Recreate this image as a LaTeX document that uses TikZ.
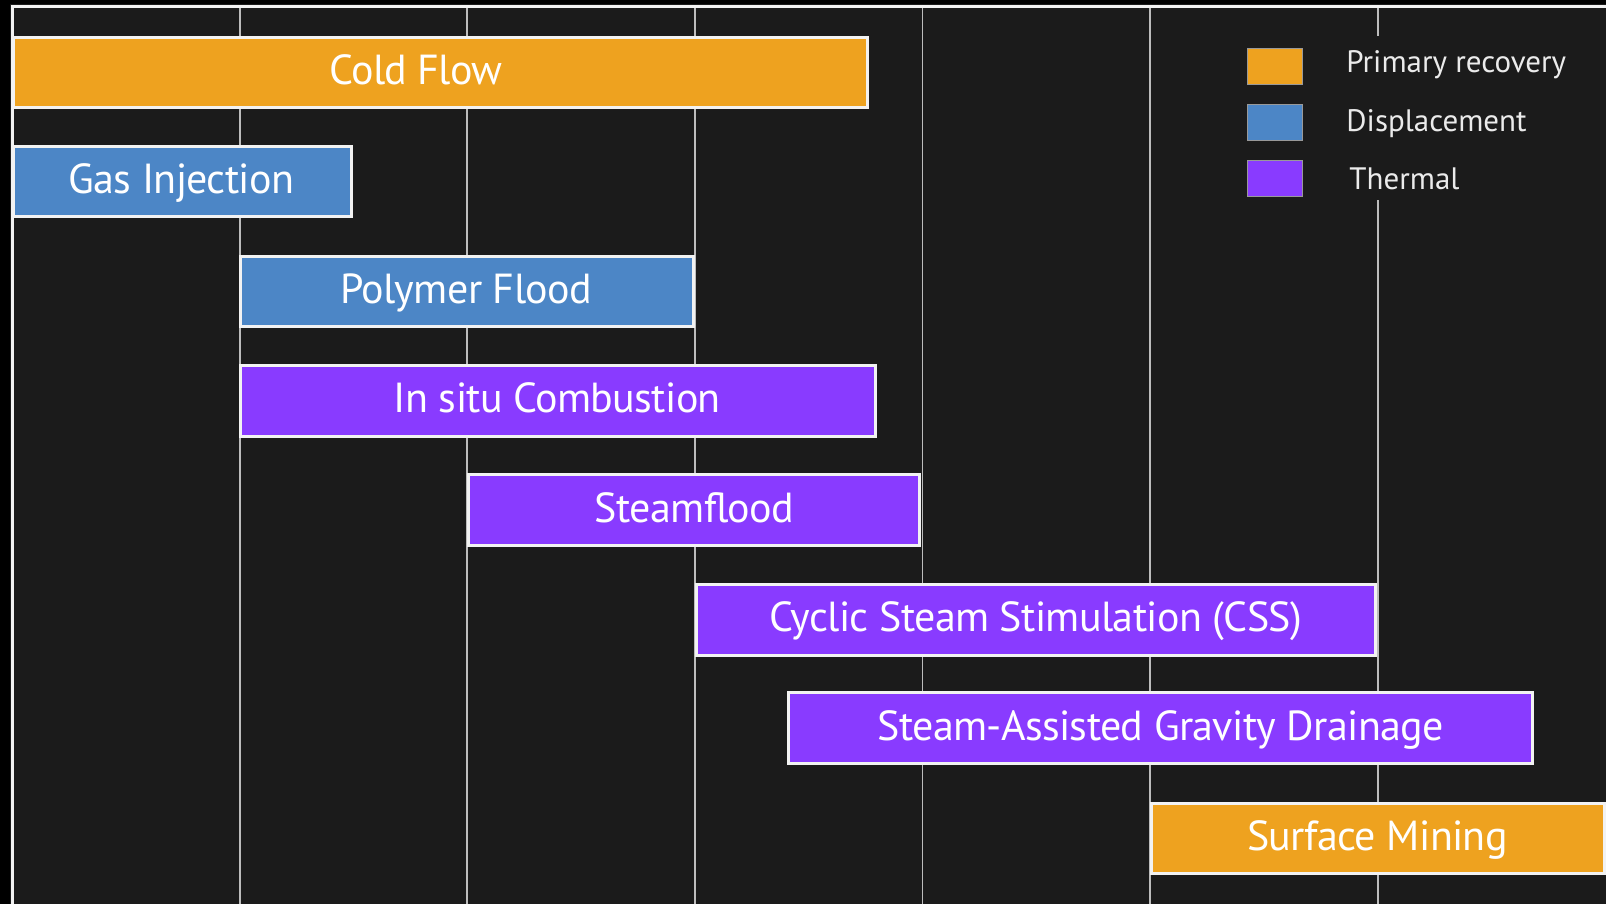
\documentclass[tikz,border=0pt]{standalone}
\usepackage{fontspec}
\setmainfont{PT Sans}
\newfontfamily\barfont[LetterSpace=-1.5]{PT Sans}
\definecolor{plotbg}{HTML}{1B1B1B}
\definecolor{cprim}{HTML}{EEA21F}
\definecolor{cdisp}{HTML}{4C86C6}
\definecolor{ctherm}{HTML}{893BFF}
\definecolor{gridc}{HTML}{BDBDBD}
\definecolor{edgec}{HTML}{F2F2F2}
\tikzset{
  bar/.style={draw=edgec, line width=1.5pt},
  barlbl/.style={anchor=base, text=white, inner sep=0pt, font=\barfont\fontsize{21}{25}\selectfont},
  leglbl/.style={anchor=base west, text=white!92!black, inner sep=0pt, font=\fontsize{15.5}{18}\selectfont},
  swatch/.style={draw=black!40, line width=0.4pt},
  gridline/.style={draw=gridc, line width=0.9pt},
}
\begin{document}
\begin{tikzpicture}[x=0.5pt,y=-0.5pt]
\useasboundingbox (0,0) rectangle (1606,904);
\fill[black] (0,0) rectangle (1606,904);
\fill[plotbg] (10,4) rectangle (1606,904);
% grid
\foreach \k in {1,...,6} {
  \draw[gridline] ({12+227.6*\k},6) -- ({12+227.6*\k},904);
}
% axis lines
\draw[draw=edgec, line width=1.4pt] (12.5,904) -- (12.5,6.5) -- (1606,6.5);
% bars
\draw[bar, fill=cprim]  (13.5,37.5) rectangle (867.2,107.5);
\node[barlbl] (coldflow) at (416,84.5) {Cold Flow};
\draw[bar, fill=cdisp]  (13.5,146.5) rectangle (351.5,216.5);
\node[barlbl] (gas) at (181.5,193.5) {Gas Injection};
\draw[bar, fill=cdisp]  (240.5,256) rectangle (693.5,326.5);
\node[barlbl] (polymer) at (466,303) {Polymer Flood};
\draw[bar, fill=ctherm] (240.5,365.5) rectangle (875.2,436);
\node[barlbl] (insitu) at (557.3,412.5) {In situ Combustion};
\draw[bar, fill=ctherm] (468.5,474.5) rectangle (919.5,545);
\node[barlbl] (steam) at (694.6,522) {Steamflood};
\draw[bar, fill=ctherm] (696.5,584.5) rectangle (1375.5,655.5);
\node[barlbl] (css) at (1035.8,631.5) {Cyclic Steam Stimulation (CSS)};
\draw[bar, fill=ctherm] (788.2,692.5) rectangle (1532.5,763.5);
\node[barlbl] (sagd) at (1160.8,740.5) {Steam-Assisted Gravity Drainage};
\draw[bar, fill=cprim]  (1151.5,803.5) rectangle (1604.5,873.5);
\node[barlbl] (surface) at (1377.5,850) {Surface Mining};
% legend
\fill[plotbg] (1225,36) rectangle (1598,200);
\draw[swatch, fill=cprim]  (1247,48.5) rectangle (1302.5,84);
\draw[swatch, fill=cdisp]  (1247,104.5) rectangle (1302.5,140);
\draw[swatch, fill=ctherm] (1247,160.5) rectangle (1302.5,196);
\node[leglbl] (lprim) at (1346,73) {Primary recovery};
\node[leglbl] (ldisp) at (1346,131.5) {Displacement};
\node[leglbl] (ltherm) at (1349,189.5) {Thermal};
\end{tikzpicture}
\end{document}
